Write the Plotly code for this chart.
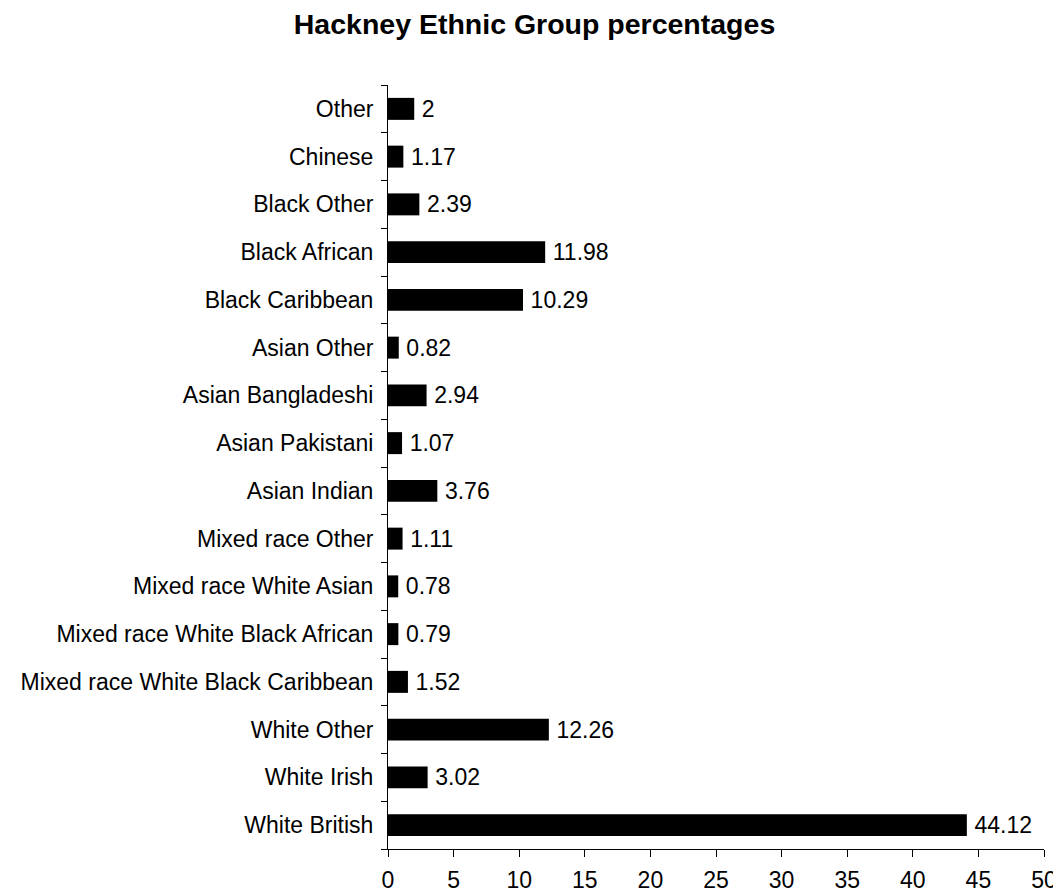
import plotly.graph_objects as go

categories = ["White British", "White Irish", "White Other",
              "Mixed race White Black Caribbean", "Mixed race White Black African",
              "Mixed race White Asian", "Mixed race Other", "Asian Indian",
              "Asian Pakistani", "Asian Bangladeshi", "Asian Other",
              "Black Caribbean", "Black African", "Black Other", "Chinese", "Other"]
values = [44.12, 3.02, 12.26, 1.52, 0.79, 0.78, 1.11, 3.76,
          1.07, 2.94, 0.82, 10.29, 11.98, 2.39, 1.17, 2]
labels = ["44.12", "3.02", "12.26", "1.52", "0.79", "0.78", "1.11", "3.76",
          "1.07", "2.94", "0.82", "10.29", "11.98", "2.39", "1.17", "2"]
x_ticks = [0, 5, 10, 15, 20, 25, 30, 35, 40, 45, 50]

font = "Liberation Sans, Arial, sans-serif"

fig = go.Figure(go.Bar(
    x=values, y=categories, orientation="h",
    marker=dict(color="black", line=dict(width=0)),
    width=0.46,
    text=labels, texttemplate="\u2009%{text}", textposition="outside", cliponaxis=False,
    constraintext="none",
    textfont=dict(family=font, size=23, color="black"),
))

fig.update_layout(
    width=1053, height=885,
    paper_bgcolor="white", plot_bgcolor="white",
    margin=dict(l=380, r=17, t=77, b=44, autoexpand=False),
    title=dict(text="<b>Hackney Ethnic Group percentages</b>",
               x=0.5, xanchor="center", y=0.982, yanchor="middle",
               font=dict(family=font, size=28.5, color="black")),
    showlegend=False,
    font=dict(family=font, size=23, color="black"),
)
fig.update_xaxes(range=[0, 50], tickvals=x_ticks, ticktext=[str(t) for t in x_ticks],
                 showgrid=False, zeroline=False, showline=True, linecolor="black", linewidth=1,
                 ticks="outside", ticklen=7, tickcolor="black", tickwidth=1,
                 ticklabelstandoff=3, automargin=False,
                 tickfont=dict(family=font, size=23, color="black"))
fig.update_yaxes(type="category", categoryorder="array", categoryarray=categories,
                 showgrid=False, zeroline=False, showline=True, linecolor="black", linewidth=1,
                 ticks="outside", ticklen=6, tickcolor="black", tickwidth=1, tickson="boundaries",
                 ticklabelstandoff=9, automargin=False,
                 tickfont=dict(family=font, size=23, color="black"))

fig.write_html("out.html")
